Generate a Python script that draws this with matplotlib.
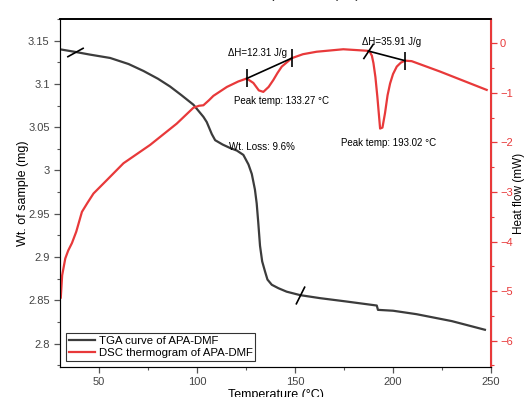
import matplotlib
matplotlib.use("Agg")
import matplotlib.pyplot as plt
import numpy as np
from matplotlib.path import Path
from matplotlib.ticker import MultipleLocator

plt.rcParams['font.family'] = ['Liberation Sans', 'DejaVu Sans']

# TGA curve (weight, mg)
tga_T = [30.0, 37.8, 45.0, 55.6, 65.0, 72.6, 80.0, 86.2, 92.0, 98.1, 103.2, 104.9,
         107.5, 109.2, 113.0, 116.8, 120.3, 123.6, 126.2, 127.9, 129.5, 130.4, 131.2,
         132.1, 133.2, 134.7, 135.9, 138.1, 141.5, 145.7, 152.6, 162.8, 175.0, 191.7,
         192.3, 200.0, 212.0, 230.0, 246.9]
tga_W = [3.140, 3.137, 3.134, 3.130, 3.123, 3.115, 3.106, 3.097, 3.087, 3.076, 3.062, 3.056,
         3.042, 3.035, 3.030, 3.026, 3.023, 3.018, 3.007, 2.996, 2.978, 2.962, 2.940,
         2.913, 2.895, 2.883, 2.874, 2.868, 2.864, 2.860, 2.856, 2.8525, 2.849, 2.844,
         2.839, 2.838, 2.834, 2.826, 2.816]

# DSC curve (heat flow, mW)
dsc_T = [30.4, 31.1, 32.7, 34.2, 36.1, 38.3, 41.2, 44.0, 47.1, 53.9, 62.4, 76.0, 89.6,
         98.1, 101.0, 103.2, 106.0, 108.3, 115.2, 121.0, 125.3, 128.7, 131.5, 133.8,
         136.5, 138.9, 141.0, 143.2, 148.3, 154.0, 161.0, 174.6, 186.6, 188.0, 189.2,
         190.0, 191.0, 192.0, 193.4, 194.6, 195.9, 197.2, 198.5, 200.0, 201.9, 204.0,
         206.1, 209.5, 224.0, 247.8]
dsc_H = [-5.13, -4.68, -4.34, -4.18, -4.03, -3.80, -3.40, -3.22, -3.03, -2.76, -2.42, -2.05,
         -1.62, -1.30, -1.26, -1.25, -1.15, -1.06, -0.88, -0.77, -0.71, -0.80, -0.95, -0.98,
         -0.88, -0.74, -0.60, -0.47, -0.30, -0.22, -0.17, -0.12, -0.15, -0.16, -0.25,
         -0.40, -0.68, -1.08, -1.72, -1.70, -1.41, -1.05, -0.81, -0.62, -0.47, -0.39,
         -0.35, -0.36, -0.57, -0.94]

tga_marks = [37.8, 152.6]
dh1_T = [125.3, 148.3]
dh2_T = [187.4, 206.1]

gray = '#3c3c3c'
red = '#e8393a'

fig = plt.figure(figsize=(5.24, 3.97), dpi=100)
ax = fig.add_axes([0.1145, 0.0756, 0.8225, 0.8765])
ax2 = ax.twinx()

l1, = ax.plot(tga_T, tga_W, color=gray, lw=1.6, label='TGA curve of APA-DMF')
l2, = ax2.plot(dsc_T, dsc_H, color=red, lw=1.6, label='DSC thermogram of APA-DMF')

# slash marks on TGA curve
slash_a = Path([(-1, -0.55), (1, 0.55)], [Path.MOVETO, Path.LINETO])
slash_b = Path([(-0.5, -1), (0.5, 1)], [Path.MOVETO, Path.LINETO])
tw = np.interp(tga_marks, tga_T, tga_W)
ax.plot(tga_marks[0], tw[0], marker=slash_a, ms=12, mew=1.2, color='black')
ax.plot(tga_marks[1], tw[1], marker=slash_b, ms=13, mew=1.2, color='black')

# enthalpy baselines on DSC curve
h1 = np.interp(dh1_T, dsc_T, dsc_H)
ax2.plot(dh1_T, h1, color='black', lw=1.2)
ax2.plot(dh1_T, h1, ls='none', marker='|', ms=13, mew=1.2, color='black')
h2 = np.interp(dh2_T, dsc_T, dsc_H)
ax2.plot(dh2_T, h2, color='black', lw=1.2)
ax2.plot(dh2_T[0], h2[0], marker=Path([(-0.4, -0.6), (0.4, 0.6)], [Path.MOVETO, Path.LINETO]),
         ms=11, mew=1.2, color='black')
ax2.plot(dh2_T[1], h2[1], marker='|', ms=13, mew=1.2, color='black')

ax2.text(131.0, -0.20, '\u0394H=12.31 J/g', fontsize=7, ha='center', va='center')
ax2.text(143.0, -1.17, 'Peak temp: 133.27 \u00b0C', fontsize=7, ha='center', va='center')
ax2.text(199.5, 0.03, '\u0394H=35.91 J/g', fontsize=7, ha='center', va='center')
ax2.text(197.5, -2.02, 'Peak temp: 193.02 \u00b0C', fontsize=7, ha='center', va='center')
ax.text(133.0, 3.027, 'Wt. Loss: 9.6%', fontsize=7, ha='center', va='center')

ax.set_xlim(30, 250)
ax.set_ylim(2.773, 3.175)
ax2.set_ylim(-6.53, 0.49)

ax.xaxis.set_major_locator(MultipleLocator(50))
ax.xaxis.set_minor_locator(MultipleLocator(25))
ax.yaxis.set_major_locator(MultipleLocator(0.05))
ax.yaxis.set_minor_locator(MultipleLocator(0.025))
ax2.yaxis.set_major_locator(MultipleLocator(1))
ax2.yaxis.set_minor_locator(MultipleLocator(0.5))
ax.set_yticks([2.8, 2.85, 2.9, 2.95, 3.0, 3.05, 3.1, 3.15])
ax.set_yticklabels(['2.8', '2.85', '2.9', '2.95', '3', '3.05', '3.1', '3.15'])

ax.tick_params(which='both', direction='out', colors='#555555', labelcolor='#444444',
               labelsize=8, top=False)
ax.tick_params(which='major', length=4, width=0.9)
ax.tick_params(which='minor', length=2.5, width=0.8)
ax2.tick_params(which='both', direction='out', colors=red, labelcolor=red, labelsize=8,
                pad=2.5)
ax2.tick_params(which='major', length=4, width=0.9)
ax2.tick_params(which='minor', length=2.5, width=0.8)

for s in ['left', 'bottom']:
    ax.spines[s].set_color('#555555')
ax.spines['top'].set_color('black')
ax.spines['top'].set_linewidth(1.2)
ax2.spines['right'].set_color(red)
ax2.spines['right'].set_linewidth(1.5)
ax2.spines['top'].set_color('black')
ax2.spines['top'].set_linewidth(1.2)

ax.set_xlabel('Temperature (\u00b0C)', fontsize=9, labelpad=1)
ax.set_ylabel('Wt. of sample (mg)', fontsize=9, labelpad=-1)
ax2.set_ylabel('Heat flow (mW)', fontsize=8.5, labelpad=0)

fig.text(0.575, 1.005, 'Temperature (\u00b0C)', fontsize=11, ha='center', va='baseline',
         color='#333333')

leg = ax.legend(handles=[l1, l2], loc='lower left', fontsize=8.2, frameon=True,
                fancybox=False, edgecolor='black', borderpad=0.25, handlelength=2.3,
                handletextpad=0.3, labelspacing=0.2, borderaxespad=0.55)
leg.get_frame().set_linewidth(0.8)

fig.savefig('out.png', dpi=100)
